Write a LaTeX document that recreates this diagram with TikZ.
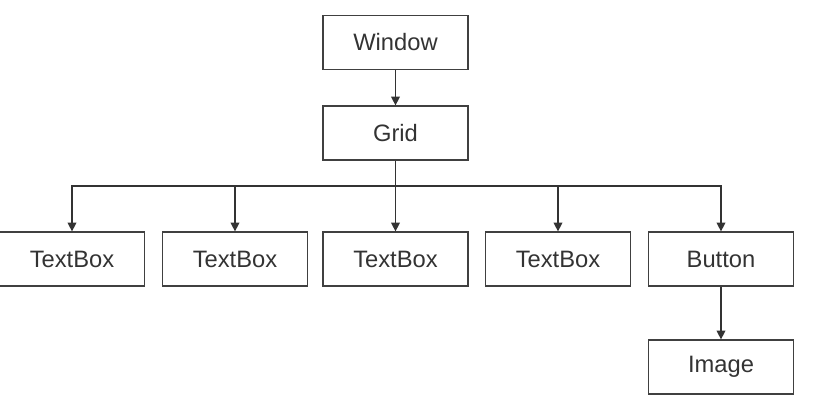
\documentclass[tikz,border=0pt]{standalone}
\usepackage{fontspec}
\setmainfont{Liberation Sans}
\usetikzlibrary{arrows.meta}
\begin{document}
\begin{tikzpicture}[
		every node/.style={draw=black!75, line width=0.7pt, minimum width=2.9cm, minimum height=1.08cm, inner sep=0pt, font=\fontsize{13.5}{16}\selectfont, text=black!80},
		link/.style={line width=0.7pt, black!80},
		arrow/.style={link, -{Triangle[length=5pt,width=5pt]}},
		line cap=butt,
		line join=miter
		]
		\useasboundingbox (0,0) rectangle (16.7,-8.2);
		
		% ---- nodes ----
		\node (window) at (7.91, -0.85) {Window};
		\node (grid)   at (7.91, -2.66) {Grid};
		
		\node (tb1) at (1.44,  -5.18) {TextBox};
		\node (tb2) at (4.70,  -5.18) {TextBox};
		\node (tb3) at (7.91,  -5.18) {TextBox};
		\node (tb4) at (11.16, -5.18) {TextBox};
		\node (button) at (14.42, -5.18) {Button};
		\node (image)  at (14.42, -7.34) {Image};
		
		\coordinate (bar) at (7.91, -3.72);
		
		% ---- connectors ----
		\draw[arrow] (window) -- (grid);
		\draw[link, line width=1pt] (grid) -- (bar);
		\draw[arrow] (bar) -| (tb1.north);
		\draw[arrow] (bar) -| (tb2.north);
		\draw[arrow] (bar) -- (tb3.north);
		\draw[arrow] (bar) -| (tb4.north);
		\draw[arrow] (bar) -| (button.north);
		\draw[arrow] (button) -- (image);
	\end{tikzpicture}
\end{document}
